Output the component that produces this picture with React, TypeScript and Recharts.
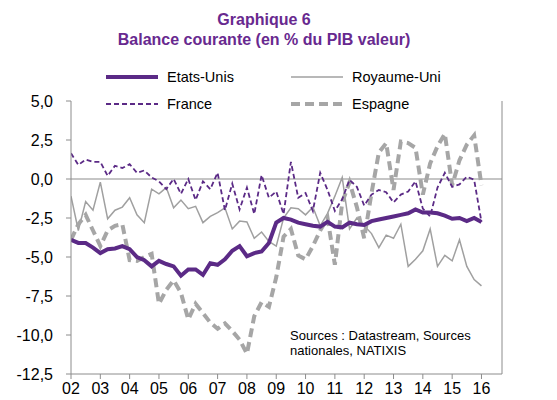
import React from 'react';
import { LineChart, Line, XAxis, YAxis, ReferenceLine } from 'recharts';

// Quarterly data, 2002Q1 .. 2016Q1 (57 quarters)
const yearLabels = ['02', '03', '04', '05', '06', '07', '08', '09', '10', '11', '12', '13', '14', '15', '16'];

const etatsUnis = [
  -3.9, -4.1, -4.1, -4.4, -4.75, -4.5, -4.45, -4.3, -4.5, -5.0,
  -5.2, -5.6, -5.25, -5.45, -5.6, -6.2, -5.8, -5.8, -6.15, -5.4,
  -5.5, -5.15, -4.6, -4.3, -4.95, -4.75, -4.65, -4.1, -2.8, -2.5,
  -2.6, -2.8, -2.9, -3.0, -3.05, -2.75, -3.05, -3.1, -2.8, -2.9,
  -2.95, -2.7, -2.6, -2.5, -2.4, -2.3, -2.2, -1.95, -2.15, -2.15,
  -2.2, -2.35, -2.55, -2.5, -2.7, -2.5, -2.75,
];

const france = [
  1.65, 0.9, 1.25, 1.1, 1.1, 0.2, 0.85, 0.7, 0.95, 0.4,
  0.55, 0.1, -0.15, -0.65, 0.0, -0.95, 0.0, -1.35, -0.15, -0.65,
  0.4, -2.0, -0.3, -1.95, -0.55, -2.25, 0.25, -1.2, -0.8, -2.25,
  1.1, -1.2, -0.9, -2.05, 0.4, -0.7, -2.05, -1.3, -0.05, -0.5,
  -1.7, -1.0, -0.7, -0.85, -1.5, -1.0, -0.8, -0.15, -1.9, -2.4,
  -0.55, 0.4, -0.5, -0.35, 0.15, -0.05, -2.75,
];

const royaumeUni = [
  -1.1, -3.3, -1.45, -2.0, -0.2, -2.55, -2.0, -1.8, -1.2, -2.3,
  -2.8, -0.65, -0.95, -0.55, -1.85, -1.35, -1.9, -1.75, -2.8, -2.4,
  -2.15, -1.85, -3.2, -2.7, -2.75, -3.8, -3.4, -4.0, -4.3, -2.5,
  -1.85, -1.9, -2.3, -1.8, -3.0, -2.2, -1.1, 0.1, -3.2, -2.5,
  -3.0, -3.5, -4.4, -3.6, -3.8, -2.9, -5.6, -5.15, -4.6, -3.2,
  -5.6, -4.9, -5.25, -3.9, -5.6, -6.45, -6.85,
];

const espagne = [
  -3.9, -2.9, -2.3, -3.3, -4.3, -3.3, -3.0, -2.9, -5.2, -5.25,
  -5.0, -4.8, -8.0, -7.1, -6.5, -7.3, -9.0, -8.0, -8.6, -9.2,
  -9.6, -9.25, -9.75, -10.3, -11.2, -8.8, -7.9, -8.2, -6.3, -3.7,
  -3.2, -4.9, -5.15, -4.3, -3.3, -2.5, -5.5, -1.5, -0.2, -1.8,
  -3.8, -0.9, 1.7, 2.3, -0.7, 2.4, 2.3, 2.0, -1.0, 1.0,
  2.1, 2.9, -0.4, 1.2, 2.2, 2.8, -0.4,
];

const yTicks = [-12.5, -10, -7.5, -5, -2.5, 0, 2.5, 5];
const xTicks = yearLabels.map((_, i) => i * 4);

const data = etatsUnis.map((v, i) => ({
  q: i,
  us: v,
  fr: france[i],
  uk: royaumeUni[i],
  es: espagne[i],
}));

const PURPLE = '#5b2a86';
const TITLE_PURPLE = '#68298f';
const GRAY_LINE = '#a0a0a0';
const GRAY_DASH = '#a6a6a6';
const AXIS = '#8c8c8c';
const FONT = '"Liberation Sans", Arial, sans-serif';

const legendItems = [
  { name: 'Etats-Unis', color: PURPLE, width: 4, dash: undefined as string | undefined, x: 106, y: 77 },
  { name: 'Royaume-Uni', color: GRAY_LINE, width: 1.5, dash: undefined as string | undefined, x: 291, y: 77 },
  { name: 'France', color: PURPLE, width: 1.8, dash: '5 3', x: 106, y: 104 },
  { name: 'Espagne', color: GRAY_DASH, width: 4, dash: '9 5', x: 291, y: 104 },
];

const fmt = (v: number) => v.toFixed(1).replace('.', ',');

export default function App() {
  return (
    <div style={{ position: 'absolute', left: 0, top: 0, width: 557, height: 400, fontFamily: FONT, background: '#fff' }}>
      <div
        style={{
          position: 'absolute',
          left: 0,
          top: 10,
          width: 528,
          textAlign: 'center',
          color: TITLE_PURPLE,
          fontWeight: 'bold',
          fontSize: 16,
          lineHeight: '20px',
        }}
      >
        <div>Graphique 6</div>
        <div>Balance courante (en % du PIB valeur)</div>
      </div>
      <LineChart width={557} height={400} data={data} margin={{ top: 101, right: 0, bottom: 0, left: 0 }}>
        <XAxis
          type="number"
          dataKey="q"
          domain={[0, 58.8]}
          ticks={xTicks}
          interval={0}
          tickFormatter={(v: number) => yearLabels[Math.round(v / 4)]}
          height={26}
          tickSize={5}
          tickMargin={4}
          tick={{ fontSize: 16, fill: '#000', fontFamily: FONT }}
          axisLine={{ stroke: AXIS }}
          tickLine={{ stroke: AXIS }}
          allowDataOverflow
        />
        <YAxis
          yAxisId="left"
          domain={[-12.5, 5]}
          ticks={yTicks}
          interval={0}
          width={71}
          tickFormatter={fmt}
          tickSize={5}
          tickMargin={13}
          tick={{ fontSize: 16, fill: '#000', fontFamily: FONT }}
          axisLine={{ stroke: AXIS }}
          tickLine={{ stroke: AXIS }}
        />
        <YAxis
          yAxisId="right"
          orientation="right"
          domain={[-12.5, 5]}
          ticks={yTicks}
          interval={0}
          width={55}
          tickFormatter={fmt}
          tickSize={5}
          tickMargin={12}
          tick={{ fontSize: 16, fill: '#000', fontFamily: FONT, textAnchor: 'start' }}
          axisLine={{ stroke: AXIS }}
          tickLine={{ stroke: AXIS }}
        />
        <ReferenceLine yAxisId="left" y={0} stroke={AXIS} strokeWidth={1.2} />
        <Line yAxisId="left" type="linear" dataKey="uk" stroke={GRAY_LINE} strokeWidth={1.5} dot={false} isAnimationActive={false} />
        <Line yAxisId="left" type="linear" dataKey="es" stroke={GRAY_DASH} strokeWidth={4} strokeDasharray="9 5" dot={false} isAnimationActive={false} />
        <Line yAxisId="left" type="linear" dataKey="fr" stroke={PURPLE} strokeWidth={1.8} strokeDasharray="5 3" dot={false} isAnimationActive={false} />
        <Line yAxisId="left" type="linear" dataKey="us" stroke={PURPLE} strokeWidth={4} dot={false} isAnimationActive={false} />
      </LineChart>
      <svg width={557} height={400} style={{ position: 'absolute', left: 0, top: 0, pointerEvents: 'none' }}>
        {legendItems.map((it) => (
          <g key={it.name}>
            <line
              x1={it.x}
              x2={it.x + 52}
              y1={it.y}
              y2={it.y}
              stroke={it.color}
              strokeWidth={it.width}
              strokeDasharray={it.dash}
            />
            <text x={it.x + 61} y={it.y + 5} fontSize={14.5} fontFamily={FONT} fill="#000">
              {it.name}
            </text>
          </g>
        ))}
        <text x={290} y={340} fontSize={13} fontFamily={FONT} fill="#000">
          Sources : Datastream, Sources
        </text>
        <text x={290} y={355} fontSize={13} fontFamily={FONT} fill="#000">
          nationales, NATIXIS
        </text>
      </svg>
    </div>
  );
}
